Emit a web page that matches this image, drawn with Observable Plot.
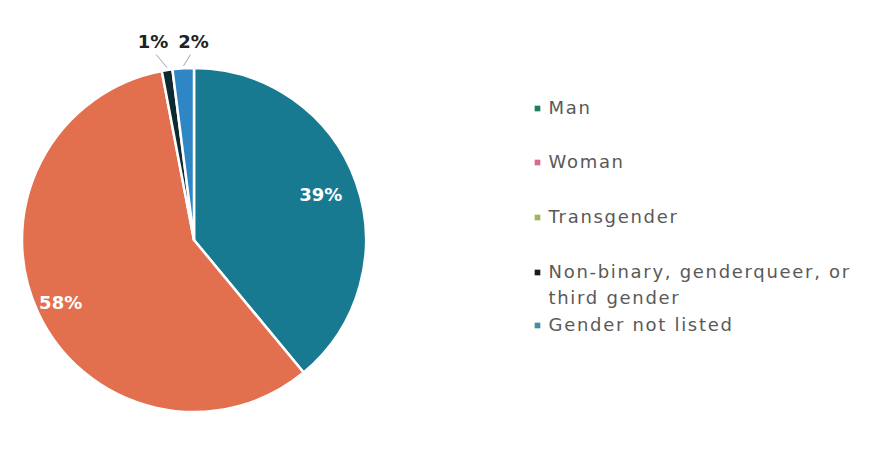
<!DOCTYPE html>
<html><head><meta charset="utf-8">
<script src="https://cdn.jsdelivr.net/npm/d3@7"></script>
<script src="https://cdn.jsdelivr.net/npm/@observablehq/plot@0.6"></script>
<style>
body{margin:0;background:#fff;}
</style>
</head><body><div id="chart"></div>
<script>
const categories = ["Man", "Woman", "Transgender", "Non-binary, genderqueer, or third gender", "Gender not listed"];
const values = [39, 58, 0, 1, 2];
const labels = ["39%", "58%", "", "1%", "2%"];
const sliceColors = ["#187a90", "#e2704e", "#9ab85a", "#0d2a31", "#2f86c4"];
const legendColors = ["#1f7d60", "#d46a8c", "#9ab85a", "#1a1a1a", "#4a8aa8"];
const legendLines = [["Man"], ["Woman"], ["Transgender"], ["Non-binary, genderqueer, or", "third gender"], ["Gender not listed"]];

const W = 870, H = 470;
const cx = 194, cy = 240, R = 172;

const pie = d3.pie().sort(null).value(d => d.value).startAngle(0).endAngle(2 * Math.PI);
const data = categories.map((c, i) => ({category: c, value: values[i], label: labels[i], color: sliceColors[i]}));
const arcs = pie(data);

function pieMark(index, scales, values_, dims) {
  const g = d3.create("svg:g");
  const x0 = scales.x(cx), y0 = scales.y(cy);
  const arc = d3.arc().innerRadius(0).outerRadius(R);
  g.selectAll("path").data(arcs.filter(a => a.data.value > 0)).join("path")
    .attr("transform", `translate(${x0},${y0})`)
    .attr("d", arc)
    .attr("fill", a => a.data.color)
    .attr("stroke", "#fff")
    .attr("stroke-width", 2.5)
    .attr("stroke-linejoin", "round");
  return g.node();
}

// inner labels
const inner = arcs.filter(a => a.data.value >= 10).map(a => {
  const mid = (a.startAngle + a.endAngle) / 2;
  const rr = a.data.value > 50 ? 0.86 * R : 0.78 * R;
  return {x: cx + rr * Math.sin(mid), y: cy - rr * Math.cos(mid), text: a.data.label};
});
// outer labels with leader lines
const small = arcs.filter(a => a.data.value > 0 && a.data.value < 10);
const outer = small.map((a, k) => {
  const mid = (a.startAngle + a.endAngle) / 2;
  const ex = cx + (R + 3) * Math.sin(mid), ey = cy - (R + 3) * Math.cos(mid);
  const lx = ex + (k === 0 ? -14 : 10), ly = cy - R - 18;
  return {x: lx, y: ly - 8, ex, ey, text: a.data.label};
});

// legend
const legendX = 537, textX = 548;
const legendRowY = [108, 162, 217, 272, 325];
const legendItems = [];
const legendText = [];
legendLines.forEach((lines, i) => {
  legendItems.push({x: legendX, y: legendRowY[i], color: legendColors[i]});
  lines.forEach((t, j) => legendText.push({x: textX, y: legendRowY[i] + j * 26, text: t}));
});

const chart = Plot.plot({
  width: W, height: H,
  margin: 0,
  x: {domain: [0, W], range: [0, W], axis: null},
  y: {domain: [0, H], range: [0, H], axis: null},
  style: {background: "#fff", fontFamily: "DejaVu Sans"},
  marks: [
    pieMark,
    Plot.link(outer, {x1: d => d.x + (d.text === "1%" ? 3 : -3), y1: d => d.y + 12, x2: d => d.ex, y2: d => d.ey, stroke: "#9aa3b5", strokeWidth: 1}),
    Plot.text(inner, {x: "x", y: "y", text: "text", fill: "#fff", fontSize: 18, fontWeight: "bold"}),
    Plot.text(outer, {x: "x", y: "y", text: "text", fill: "#222", fontSize: 18, fontWeight: "bold"}),
    Plot.dot(legendItems, {x: "x", y: "y", symbol: "square", r: 3.2, fill: "color"}),
    Plot.text(legendText, {x: "x", y: "y", text: "text", textAnchor: "start", fill: "#595959", fontSize: 18})
  ]
});
const groups = chart.querySelectorAll(":scope > g");
const legendGroup = groups[groups.length - 1];
legendGroup.querySelectorAll("text").forEach(t => t.setAttribute("letter-spacing", "1.7"));
document.getElementById("chart").appendChild(chart);
</script>
</body></html>
